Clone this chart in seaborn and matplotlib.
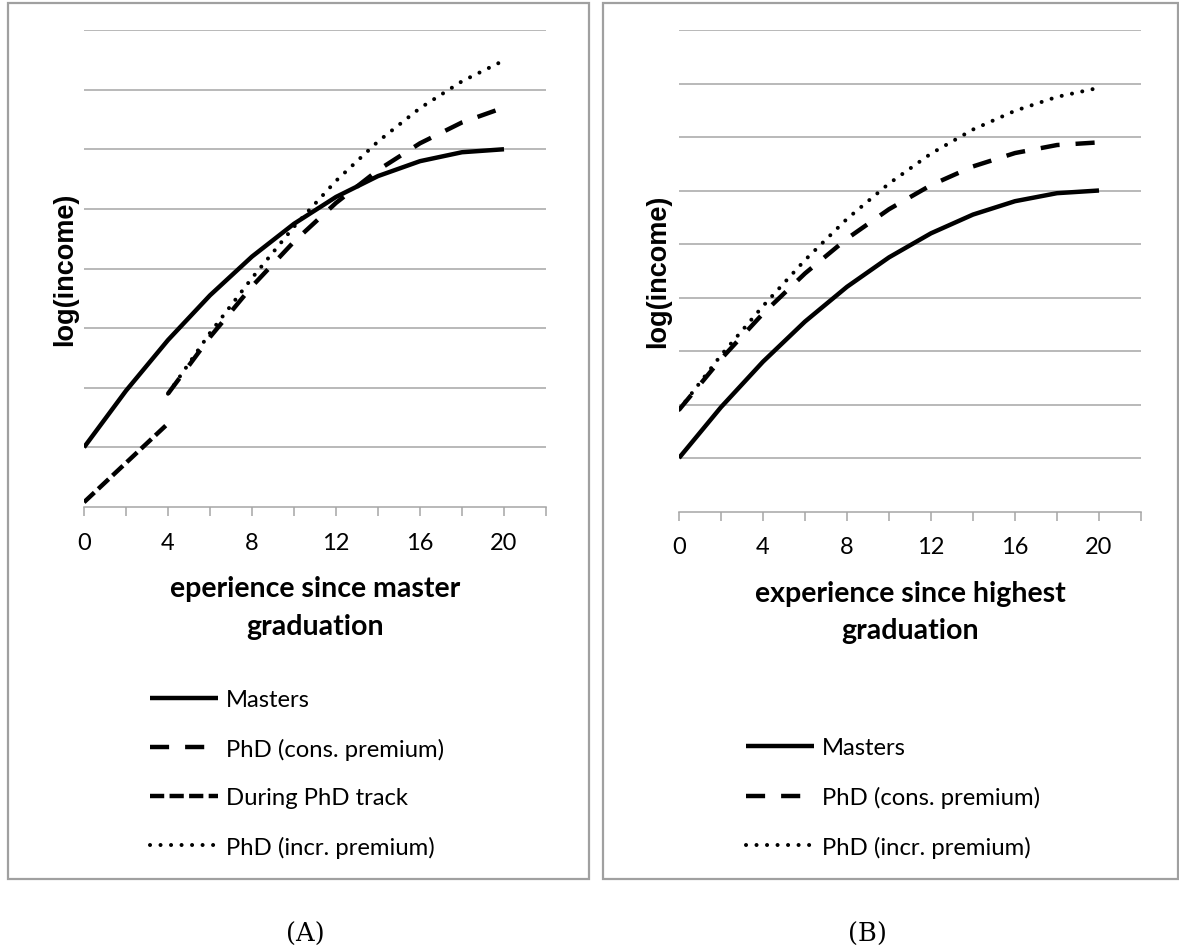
import matplotlib
matplotlib.use("Agg")
import matplotlib.pyplot as plt
from matplotlib.patches import Rectangle
import seaborn as sns

# experience grids (years)
years = [0, 2, 4, 6, 8, 10, 12, 14, 16, 18, 20]
years_phd = [4, 6, 8, 10, 12, 14, 16, 18, 20]
years_track = [0, 2, 4]

# panel A: experience since master graduation
a_masters = [1.00, 1.95, 2.80, 3.55, 4.20, 4.75, 5.20, 5.55, 5.80, 5.95, 6.00]
a_phd_cons = [1.90, 2.85, 3.70, 4.45, 5.10, 5.65, 6.10, 6.45, 6.70]
a_track = [0.08, 0.74, 1.40]
a_phd_incr = [1.90, 2.92, 3.84, 4.70, 5.47, 6.13, 6.69, 7.14, 7.49]

# panel B: experience since highest graduation
b_masters = [1.00, 1.95, 2.80, 3.55, 4.20, 4.75, 5.20, 5.55, 5.80, 5.95, 6.00]
b_phd_cons = [1.90, 2.85, 3.70, 4.45, 5.10, 5.65, 6.10, 6.45, 6.70, 6.85, 6.90]
b_phd_incr = [1.90, 2.92, 3.84, 4.70, 5.47, 6.13, 6.69, 7.14, 7.49, 7.75, 7.92]

xtick_pos = list(range(0, 23, 2))
xtick_labels = ["0", "", "4", "", "8", "", "12", "", "16", "", "20", ""]

labels_a = ["Masters", "PhD (cons. premium)", "During PhD track", "PhD (incr. premium)"]
labels_b = ["Masters", "PhD (cons. premium)", "PhD (incr. premium)"]

sns.set_theme(style="white")
plt.rcParams["font.family"] = ["Lato", "DejaVu Sans"]
plt.rcParams["text.color"] = "black"
plt.rcParams["axes.labelcolor"] = "black"

GRID = "#a6a6a6"
FRAME = "#a0a0a0"
LW = 3.2

STYLES = {
    "Masters": dict(linestyle="-", lw=LW, solid_capstyle="butt"),
    "PhD (cons. premium)": dict(linestyle=(0, (4.3, 3.6)), lw=LW, dash_capstyle="butt"),
    "During PhD track": dict(linestyle=(0, (3.2, 1.2)), lw=LW, dash_capstyle="butt"),
    "PhD (incr. premium)": dict(linestyle=(0, (0.01, 2.6)), lw=2.9, dash_capstyle="round"),
}

W, H = 1179, 953
fig = plt.figure(figsize=(W / 100, H / 100), dpi=100)


def px_axes(x0, x1, y0, y1):
    return fig.add_axes([x0 / W, 1 - y1 / H, (x1 - x0) / W, (y1 - y0) / H])


ax_a = px_axes(84, 546, 31, 508)
ax_b = px_axes(679, 1141, 31, 512.5)


def draw(ax, series, ymax):
    for name, xs, ys in series:
        sns.lineplot(x=xs, y=ys, ax=ax, color="black", label=name,
                     errorbar=None, **STYLES[name])
    ax.set_xlim(0, 22)
    ax.set_ylim(0, ymax)
    ax.set_yticks(range(1, ymax + 1))
    ax.set_yticklabels([])
    ax.yaxis.grid(True, color=GRID, lw=1.1)
    ax.xaxis.grid(False)
    ax.set_axisbelow(True)
    ax.set_xticks(xtick_pos)
    ax.set_xticklabels(xtick_labels)
    for s in ("top", "right", "left"):
        ax.spines[s].set_visible(False)
    ax.spines["bottom"].set_color(GRID)
    ax.spines["bottom"].set_linewidth(1.1)
    ax.tick_params(axis="y", length=0)
    ax.tick_params(axis="x", direction="out", length=6.5, width=1.1,
                   color=GRID, pad=11.5, labelsize=17, labelcolor="black",
                   bottom=True)


draw(ax_a, [("Masters", years, a_masters),
            ("PhD (cons. premium)", years_phd, a_phd_cons),
            ("During PhD track", years_track, a_track),
            ("PhD (incr. premium)", years_phd, a_phd_incr)], 8)
draw(ax_b, [("Masters", years, b_masters),
            ("PhD (cons. premium)", years, b_phd_cons),
            ("PhD (incr. premium)", years, b_phd_incr)], 9)

label_font = dict(family=["Lato", "DejaVu Sans"], weight="bold", size=20.5,
                  color="black")
ax_a.set_xlabel("eperience since master\ngraduation", fontdict=label_font,
                labelpad=16, linespacing=1.55)
ax_b.set_xlabel("experience since highest\ngraduation", fontdict=label_font,
                labelpad=16, linespacing=1.55)

ylab_font = dict(family=["Liberation Sans", "DejaVu Sans"], weight="bold",
                 size=19.5, color="black")
for ax, x0, cx in ((ax_a, 84, 65), (ax_b, 679, 658)):
    ax.set_ylabel("log(income)", fontdict=ylab_font, va="center")
    ax.yaxis.set_label_coords((cx - x0) / 462, 0.5)

leg_kw = dict(loc="upper left", bbox_transform=fig.transFigure, frameon=False,
              borderpad=0, borderaxespad=0, handlelength=2.85,
              handletextpad=0.32, labelspacing=1.15,
              prop=dict(family=["Lato", "DejaVu Sans"], size=17.2))
for ax, labels, x, y in ((ax_a, labels_a, 150, 690), (ax_b, labels_b, 746, 738.5)):
    leg = ax.legend(labels=labels, bbox_to_anchor=(x / W, 1 - y / H), **leg_kw)
    for t in leg.get_texts():
        t.set_color("black")

# panel frames
for x0, x1 in ((8, 589), (603, 1178)):
    fig.add_artist(Rectangle((x0 / W, 1 - 880 / H), (x1 - x0) / W, 876 / H,
                             transform=fig.transFigure, fill=False,
                             edgecolor=FRAME, lw=1.6))

serif = dict(family=["DejaVu Serif"], size=18.5, ha="center", va="center",
             color="black")
fig.text(305 / W, 1 - 934 / H, "(A)", **serif)
fig.text(867 / W, 1 - 934 / H, "(B)", **serif)

fig.savefig("out.png", dpi=100, facecolor="white")
